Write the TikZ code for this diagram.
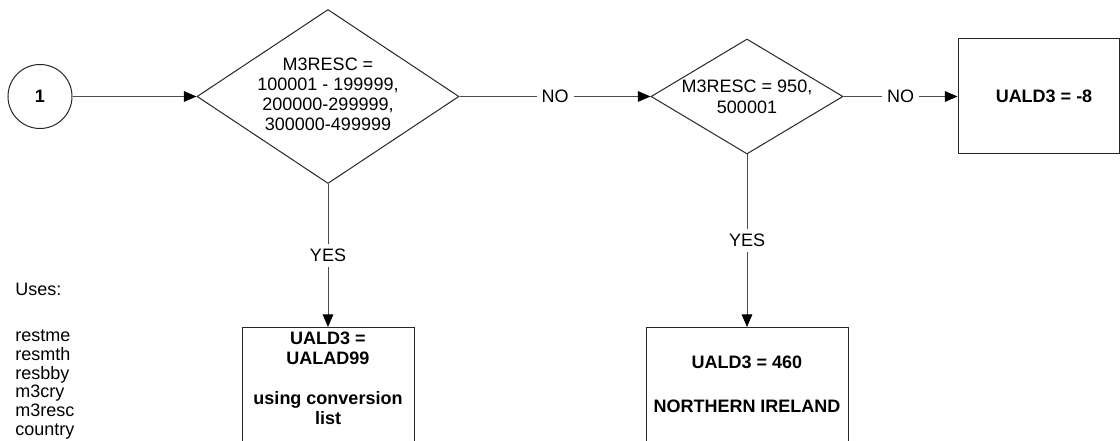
\documentclass[tikz,border=0pt]{standalone}
\usepackage{fontspec}
\setmainfont{Liberation Sans}
\usetikzlibrary{shapes.geometric,arrows.meta}
\begin{document}
\begin{tikzpicture}[x=0.75pt,y=-0.75pt,
  shp/.style={draw=black!85, line width=0.75pt, inner sep=0pt},
  conn/.style={draw=black!70, line width=0.75pt, -{Triangle[length=9.5pt,width=8pt,color=black]}},
  txt/.style={font=\fontsize{13.5pt}{14.8pt}\selectfont, align=center, inner sep=0pt},
  btxt/.style={font=\fontsize{13.5pt}{15pt}\selectfont\bfseries, align=center, inner sep=0pt},
  lbl/.style={fill=white, inner sep=3.75pt, font=\fontsize{13.5pt}{14.8pt}\selectfont}
]
\useasboundingbox (0,0) rectangle (1120,441);
\clip (0,0) rectangle (1120,441);

% shapes
\node[shp, circle, minimum size=48pt, font=\fontsize{13.5pt}{14.8pt}\selectfont\bfseries] (start) at (40,96.5) {1};
\node[shp, diamond, minimum width=196.5pt, minimum height=130.5pt] (d1) at (328,96.5) {};
\node[shp, diamond, minimum width=144pt, minimum height=86.25pt] (d2) at (747,96.5) {};
\node[shp, rectangle, minimum width=120.75pt, minimum height=86.25pt] (b3) at (1038.5,96.5) {};
\node[shp, rectangle, anchor=north, minimum width=129pt, minimum height=150pt] (b1) at (328,327) {};
\node[shp, rectangle, anchor=north, minimum width=151.5pt, minimum height=150pt] (b2) at (747,327) {};

% texts
\node[txt] (d1t) at (328,94.3) {M3RESC =\\100001 - 199999,\\200000-299999,\\300000-499999};
\node[txt, font=\fontsize{13.5pt}{16pt}\selectfont] (d2t) at (747,97.1) {M3RESC = 950,\\500001};
\node[btxt] (b3t) at (1044,96.5) {UALD3 = -8};
\node[btxt] (b1t) at (328,378) {UALD3 =\\UALAD99\\[15pt]using conversion\\list};
\node[btxt, font=\fontsize{13.5pt}{16.65pt}\selectfont\bfseries] (b2t) at (747,384.3) {UALD3 = 460\\[16.65pt]NORTHERN IRELAND};

\node[txt, anchor=base west] (uses) at (15,296) {Uses:};
\node[txt, align=left, anchor=base west, font=\fontsize{13.5pt}{14.1pt}\selectfont] (vars) at (15,435.5) {restme\\resmth\\resbby\\m3cry\\m3resc\\country};

% connectors
\draw[conn] (start) -- (d1.west);
\draw[conn] (d1.east) -- node[lbl] (no1) {NO} (d2.west);
\draw[conn] (d2.east) -- node[lbl] (no2) {NO} (b3.west);
\draw[conn] (d1.south) -- node[lbl] (yes1) {YES} (b1.north);
\draw[conn] (d2.south) -- node[lbl] (yes2) {YES} (b2.north);
\end{tikzpicture}
\end{document}
